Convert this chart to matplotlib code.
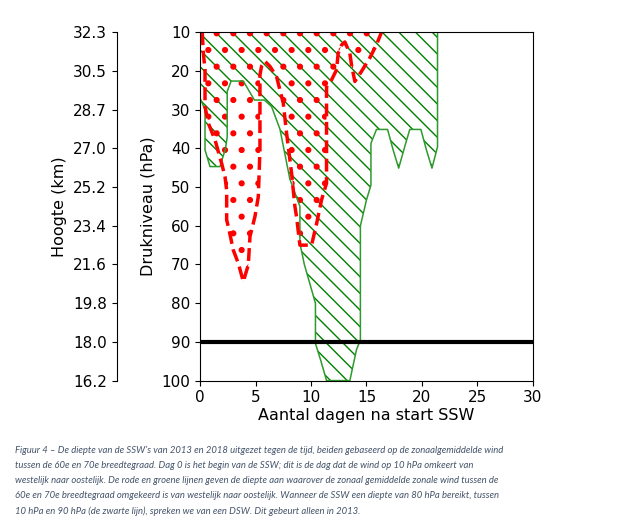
import numpy as np
import matplotlib.pyplot as plt

# pressure levels (hPa) and the matching heights (km) for the outer axis
pressure_ticks = [10, 20, 30, 40, 50, 60, 70, 80, 90, 100]
height_labels = ['32.3', '30.5', '28.7', '27.0', '25.2', '23.4', '21.6', '19.8', '18.0', '16.2']
day_ticks = [0, 5, 10, 15, 20, 25, 30]

# 2013 (green) - depth of reversed zonal wind
green_days = [0, 0, 0.45, 0.45, 0.9, 1.8, 2.3, 2.45, 2.45, 2.8, 3.9, 4.9, 5.8, 6.45,
              7.2, 8.1, 9.0, 9.0, 9.4, 10.0, 10.4, 10.4, 10.9, 11.4, 13.5, 14.1,
              14.45, 14.45, 15.0, 15.4, 15.4, 15.9, 16.9, 17.4, 17.9, 18.5, 18.9,
              19.9, 20.4, 20.9, 21.4, 21.4]
green_hpa = [10, 27, 30, 40.4, 44.7, 44.7, 40, 37, 25.3, 22.6, 22.6, 27.5, 27.5, 29.2,
             35, 48, 55, 64.5, 70, 76, 80, 90.4, 95, 100, 100, 92,
             89.5, 60, 53.3, 49.5, 38.7, 35.1, 35.1, 40.4, 45.1, 39, 35.1,
             35.1, 40.4, 45.1, 39.6, 10]

# 2018 (red)
red_days = [0.2, 0.3, 0.45, 0.45, 0.75, 1.35, 1.95, 2.25, 2.4, 2.4, 2.55, 3.0, 3.45,
            3.9, 4.35, 4.5, 4.95, 5.25, 5.4, 5.4, 5.55, 5.85, 6.3, 6.9, 7.5, 7.8,
            8.25, 8.55, 8.7, 9.0, 10.05, 10.5, 10.95, 11.4, 11.4, 11.85, 12.3,
            12.45, 12.75, 13.05, 13.5, 13.65, 13.95, 14.55, 15.3, 15.9, 16.35]
red_hpa = [10, 15.4, 19.7, 29.2, 33.5, 37.8, 43.9, 47.3, 50.8, 58.5, 60.2, 66.3, 69.7,
           74.4, 70.1, 62.8, 57.6, 52.5, 40.4, 21, 18.7, 17.5, 18.8, 21.5, 28.3, 36.1,
           46.4, 55, 57.7, 65, 65, 59.5, 53.3, 49, 24, 22.3, 19.7,
           15.4, 13.3, 12.5, 15.4, 18.4, 22.7, 20.1, 16.6, 13.2, 10]

dsw_level = 90

caption = ("Figuur 4 \u2013 De diepte van de SSW\u2019s van 2013 en 2018 uitgezet tegen de tijd, beiden gebaseerd op de zonaalgemiddelde wind\n"
           "tussen de 60e en 70e breedtegraad. Dag 0 is het begin van de SSW; dit is de dag dat de wind op 10 hPa omkeert van\n"
           "westelijk naar oostelijk. De rode en groene lijnen geven de diepte aan waarover de zonaal gemiddelde zonale wind tussen de\n"
           "60e en 70e breedtegraad omgekeerd is van westelijk naar oostelijk. Wanneer de SSW een diepte van 80 hPa bereikt, tussen\n"
           "10 hPa en 90 hPa (de zwarte lijn), spreken we van een DSW. Dit gebeurt alleen in 2013.")

fig = plt.figure(figsize=(6.36, 5.21), dpi=100)
ax = fig.add_axes([0.3145, 0.2695, 0.5235, 0.6685])

# green area (hatch only, outline drawn separately so the top edge stays hidden)
ax.fill(green_days, green_hpa, facecolor='none', edgecolor='green', linewidth=0, hatch='\\\\')
ax.plot(green_days, green_hpa, color='#2e9a2e', lw=1.1)

plt.rcParams['hatch.linewidth'] = 2.0
ax.fill(red_days, red_hpa, facecolor='none', edgecolor='red', linewidth=0, hatch='.')
plt.rcParams['hatch.linewidth'] = 1.0
ax.plot(red_days, red_hpa, color='red', lw=2.5, ls='--')

ax.axhline(dsw_level, color='black', lw=3)

ax.set_xlim(0, 30)
ax.set_ylim(100, 10)
ax.set_xticks(day_ticks)
ax.set_yticks(pressure_ticks)
ax.tick_params(labelsize=11)
ax.set_xlabel('Aantal dagen na start SSW', fontsize=11.5, labelpad=2)
ax.set_ylabel('Drukniveau (hPa)', fontsize=11.5)

# outer height axis
ax2 = ax.twinx()
ax2.set_ylim(100, 10)
ax2.yaxis.tick_left()
ax2.yaxis.set_label_position('left')
ax2.spines['left'].set_position(('outward', 60))
ax2.spines['left'].set_visible(True)
for s in ['right', 'top', 'bottom']:
    ax2.spines[s].set_visible(False)
ax2.set_yticks(pressure_ticks)
ax2.set_yticklabels(height_labels)
ax2.tick_params(labelsize=11)
ax2.set_ylabel('Hoogte (km)', fontsize=11.5)

fig.text(0.024, 0.145, caption, fontsize=6.8, style='italic', color='#44546a',
         family=['Lato', 'DejaVu Sans'], va='top', ha='left', linespacing=1.86)

fig.savefig('out.png', dpi=100)
